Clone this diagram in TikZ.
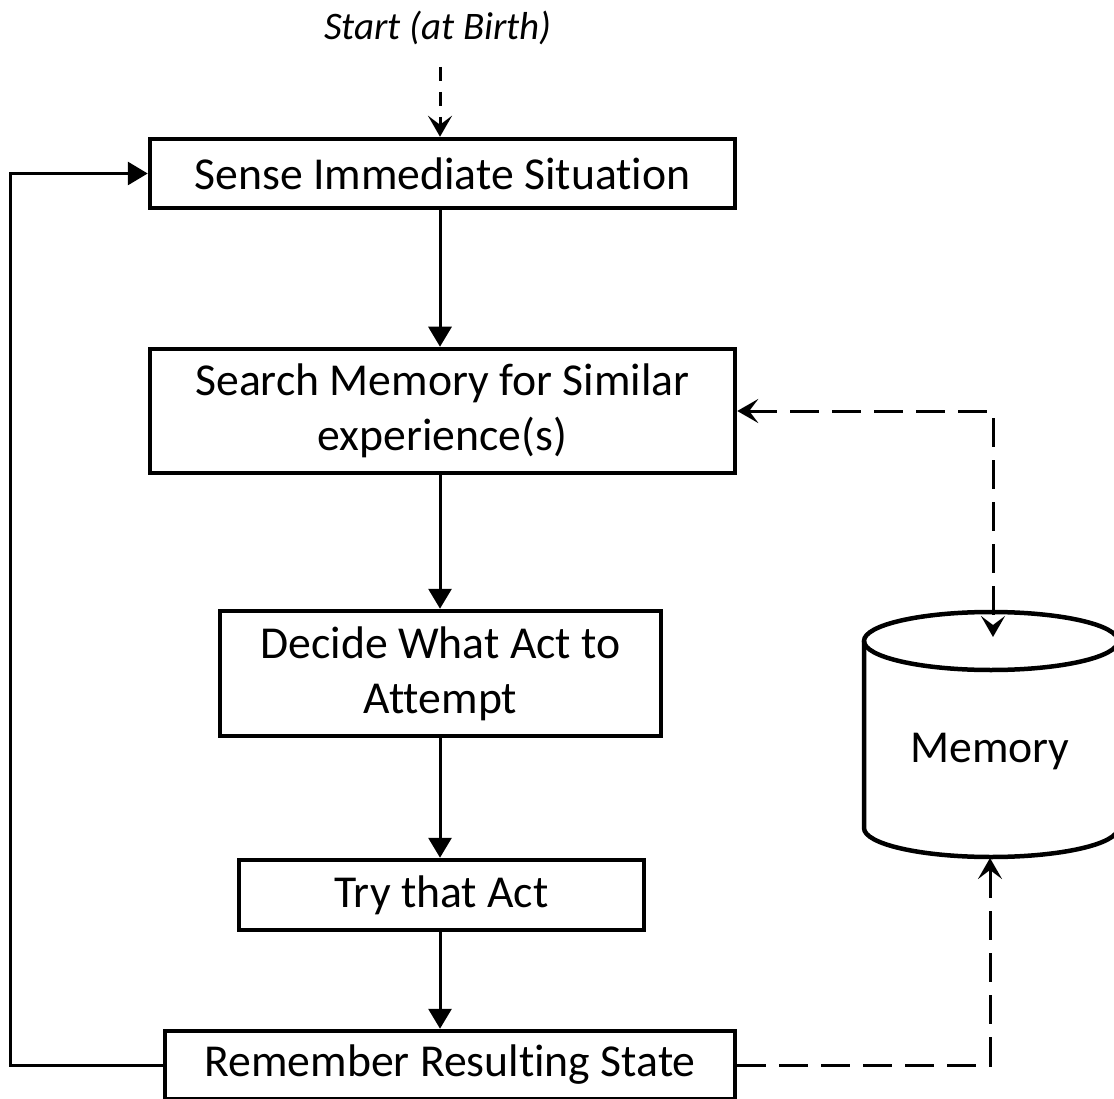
\documentclass[tikz,border=0pt]{standalone}
\usepackage{fontspec}
\setmainfont{Carlito}[Ligatures=NoCommon]
\usetikzlibrary{arrows.meta,positioning,calc}

\begin{document}
\begin{tikzpicture}[x=1pt,y=-1pt,
  font=\fontsize{45.7}{55}\selectfont,
  tri/.tip={Triangle[length=20pt,width=23pt]},
  stl/.tip={Stealth[length=21pt,width=24pt,inset=9pt]},
  box/.style={draw,line width=4.5pt,inner sep=0pt,align=center},
  ln/.style={line width=3pt,-tri},
  dl/.style={line width=3pt,dash pattern=on 29pt off 13pt,-stl}]
\useasboundingbox (0,0) rectangle (1114,1099);
% main column
\node[font=\fontsize{39}{46}\selectfont\itshape] (start) at (438,28) {Start (at Birth)};
\node[box,minimum width=585pt,minimum height=69pt] (sense) at (442.5,173.5) {Sense Immediate Situation};
\node[box,minimum width=585pt,minimum height=124pt] (search) at (442.5,411) {Search Memory for Similar\\experience(s)};
\node[box,minimum width=441pt,minimum height=125pt] (decide) at (440.5,673.5) {Decide What Act to\\Attempt};
\node[box,minimum width=405pt,minimum height=70pt] (try) at (441.5,895) {Try that Act};
\node[box,minimum width=570pt,minimum height=68pt] (remember) at (450,1065) {Remember Resulting State};
\draw[line width=3pt,dash pattern=on 14pt off 11pt,-stl] (440,67) -- (sense.north -| 440,0);
\draw[ln] (sense.south -| 440,0) -- (search.north -| 440,0);
\draw[ln] (search.south -| 440,0) -- (decide.north -| 440,0);
\draw[ln] (decide.south -| 440,0) -- (try.north -| 440,0);
\draw[ln] (try.south -| 440,0) -- (remember.north -| 440,0);
% loop back
\draw[ln] (remember.west) -- ++(-152,0) |- (sense.west);
% memory store
\draw[line width=4.5pt] (864,641) -- (864,828) arc[start angle=180,end angle=0,x radius=127,y radius=29] -- (1118,641);
\draw[line width=4.5pt] (991,641) ellipse[x radius=127,y radius=29];
\node (mem) at (990,752) {Memory};
\coordinate (memtop) at (993,637);
\coordinate (membot) at (990,858);
\draw[dl,stl-stl] (search.east) -| (memtop);
\draw[dl] (remember.east) -| (membot);
\end{tikzpicture}
\end{document}
